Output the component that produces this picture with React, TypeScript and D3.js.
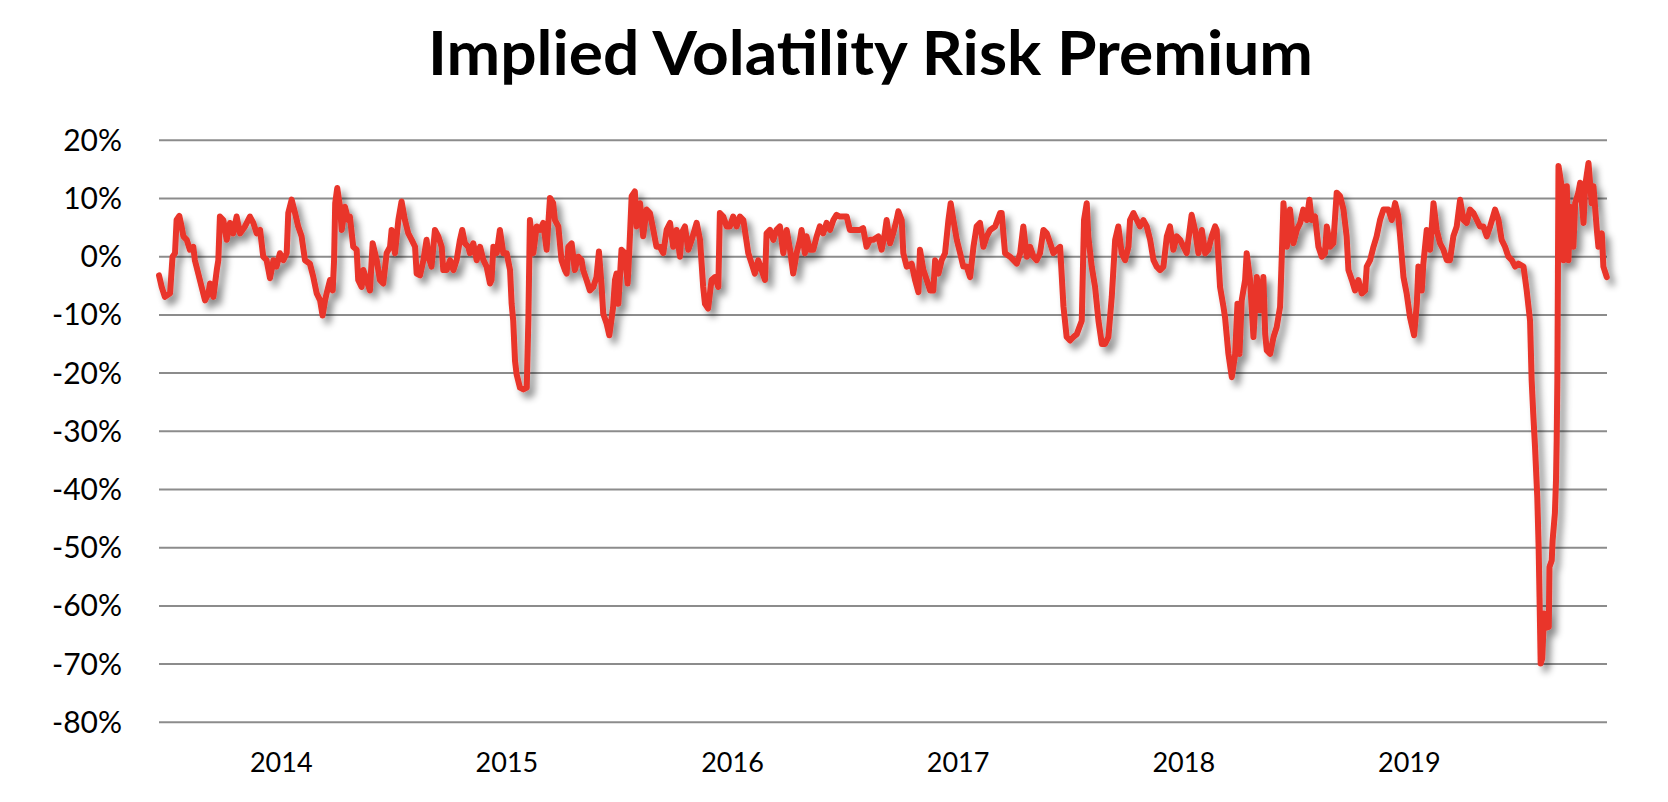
import React from 'react';
import * as d3 from 'd3';

const chartTitle = 'Implied Volatility Risk Premium';
const yTicks = [20, 10, 0, -10, -20, -30, -40, -50, -60, -70, -80];
const yearLabels = [2014, 2015, 2016, 2017, 2018, 2019];
const xDomain: [number, number] = [2013.958, 2020.376];
const yDomain: [number, number] = [-80, 20];

// [decimal year, implied volatility risk premium in %]
const premiumSeries: [number, number][] = [
  [2013.958, -3.2], [2013.970, -5.2], [2013.984, -6.9], [2014.007, -6.3], [2014.018, 0.0], [2014.029, 0.6],
  [2014.036, 6.3], [2014.048, 7.0], [2014.058, 5.2], [2014.066, 3.5], [2014.081, 2.9], [2014.095, 1.2],
  [2014.110, 1.7], [2014.117, -0.6], [2014.132, -2.9], [2014.147, -5.2], [2014.162, -7.5], [2014.177, -6.3],
  [2014.184, -4.6], [2014.199, -6.9], [2014.214, -2.3], [2014.221, -0.6], [2014.228, 6.9], [2014.243, 6.3],
  [2014.258, 2.9], [2014.273, 5.8], [2014.287, 4.0], [2014.302, 6.9], [2014.317, 4.0], [2014.339, 5.2],
  [2014.361, 6.9], [2014.376, 5.8], [2014.391, 4.0], [2014.406, 4.6], [2014.420, 0.0], [2014.435, -0.6],
  [2014.450, -3.7], [2014.465, -0.6], [2014.479, -1.7], [2014.494, 0.6], [2014.509, -0.6], [2014.524, 0.6],
  [2014.531, 7.5], [2014.546, 9.8], [2014.561, 7.5], [2014.575, 5.2], [2014.590, 3.5], [2014.605, -0.6],
  [2014.627, -1.2], [2014.642, -3.5], [2014.657, -6.3], [2014.672, -7.5], [2014.683, -10.1], [2014.694, -7.5],
  [2014.701, -6.3], [2014.716, -4.0], [2014.728, -5.8], [2014.734, -0.6], [2014.739, 9.2], [2014.748, 11.8],
  [2014.760, 8.6], [2014.768, 4.6], [2014.782, 8.6], [2014.797, 6.3], [2014.804, 6.9], [2014.819, 1.7],
  [2014.834, 1.2], [2014.841, -4.0], [2014.856, -5.2], [2014.864, -2.3], [2014.878, -4.0], [2014.893, -5.8],
  [2014.905, 2.3], [2014.923, -0.6], [2014.937, -4.0], [2014.952, -4.6], [2014.967, 0.6], [2014.982, 1.7],
  [2014.989, 4.6], [2015.004, 0.6], [2015.019, 6.3], [2015.033, 9.5], [2015.048, 6.3], [2015.063, 4.0],
  [2015.078, 2.9], [2015.093, 1.7], [2015.100, -2.9], [2015.115, -3.2], [2015.130, -0.6], [2015.144, 2.9],
  [2015.152, 0.0], [2015.166, -1.7], [2015.181, 4.6], [2015.196, 3.5], [2015.211, 1.7], [2015.218, -2.3],
  [2015.233, -2.3], [2015.248, -0.6], [2015.263, -2.3], [2015.277, -0.6], [2015.292, 2.9], [2015.302, 4.6],
  [2015.314, 2.3], [2015.329, 1.7], [2015.336, 0.6], [2015.351, 2.3], [2015.366, -0.6], [2015.381, 1.7],
  [2015.396, -0.6], [2015.410, -1.7], [2015.425, -4.6], [2015.432, -4.0], [2015.440, 1.7], [2015.455, 0.6],
  [2015.469, 4.6], [2015.484, 0.6], [2015.499, 0.6], [2015.514, -2.3], [2015.521, -8.1], [2015.528, -11.0],
  [2015.536, -17.9], [2015.543, -20.2], [2015.558, -22.5], [2015.573, -22.8], [2015.588, -22.5], [2015.595, -11.0],
  [2015.602, 6.3], [2015.617, 0.6], [2015.632, 5.2], [2015.647, 4.6], [2015.661, 5.8], [2015.676, 1.2],
  [2015.691, 10.1], [2015.705, 9.2], [2015.713, 6.3], [2015.728, 5.2], [2015.735, 2.3], [2015.742, -0.6],
  [2015.757, -2.3], [2015.765, -2.9], [2015.772, 1.7], [2015.787, 2.3], [2015.801, -2.3], [2015.816, 0.0],
  [2015.831, -0.6], [2015.838, -2.3], [2015.853, -4.0], [2015.868, -5.8], [2015.883, -5.2], [2015.897, -3.5],
  [2015.908, 0.9], [2015.920, -5.2], [2015.927, -9.8], [2015.942, -11.5], [2015.954, -13.5], [2015.971, -8.6],
  [2015.979, -4.0], [2015.986, -2.9], [2015.994, -8.1], [2016.001, -3.5], [2016.008, 1.2], [2016.023, 0.6],
  [2016.035, -4.6], [2016.042, 0.6], [2016.053, 10.4], [2016.067, 11.2], [2016.075, 5.2], [2016.090, 9.2],
  [2016.104, 3.5], [2016.119, 8.1], [2016.134, 7.5], [2016.149, 4.6], [2016.163, 1.7], [2016.178, 1.7],
  [2016.193, 0.6], [2016.208, 4.6], [2016.223, 5.8], [2016.237, 1.7], [2016.252, 4.6], [2016.267, 0.0],
  [2016.274, 4.0], [2016.289, 5.2], [2016.304, 1.2], [2016.319, 2.9], [2016.341, 5.8], [2016.356, 2.9],
  [2016.370, -5.2], [2016.378, -8.1], [2016.392, -8.9], [2016.407, -4.0], [2016.422, -3.5], [2016.437, -5.2],
  [2016.444, 7.5], [2016.459, 6.9], [2016.474, 5.2], [2016.488, 5.2], [2016.503, 6.9], [2016.518, 5.2],
  [2016.533, 6.9], [2016.548, 6.3], [2016.570, 0.6], [2016.585, -1.2], [2016.599, -2.9], [2016.614, -0.6],
  [2016.629, -2.3], [2016.644, -4.0], [2016.651, 4.0], [2016.666, 4.6], [2016.681, 2.9], [2016.695, 4.6],
  [2016.710, 5.2], [2016.725, 0.6], [2016.740, 4.6], [2016.755, 1.2], [2016.769, -2.9], [2016.784, 0.6],
  [2016.799, 2.9], [2016.806, 4.6], [2016.821, 0.6], [2016.828, 3.5], [2016.843, 1.2], [2016.858, 1.2],
  [2016.873, 3.5], [2016.887, 5.2], [2016.902, 4.0], [2016.917, 5.8], [2016.932, 4.6], [2016.947, 6.3],
  [2016.961, 7.2], [2016.976, 6.9], [2017.006, 6.9], [2017.020, 4.6], [2017.035, 4.6], [2017.065, 4.6],
  [2017.079, 4.9], [2017.094, 1.7], [2017.109, 2.9], [2017.124, 2.9], [2017.146, 3.5], [2017.161, 1.2],
  [2017.175, 4.0], [2017.183, 6.3], [2017.198, 2.3], [2017.212, 4.0], [2017.227, 6.3], [2017.235, 7.8],
  [2017.250, 6.3], [2017.257, 0.6], [2017.272, -1.7], [2017.294, -1.2], [2017.309, -4.0], [2017.324, -6.1],
  [2017.331, 1.2], [2017.346, -2.3], [2017.361, -4.0], [2017.376, -5.8], [2017.390, -5.8], [2017.398, -0.6],
  [2017.413, -2.9], [2017.427, -0.6], [2017.442, 0.6], [2017.457, 6.3], [2017.467, 9.2], [2017.479, 6.3],
  [2017.494, 2.9], [2017.509, 0.6], [2017.523, -1.7], [2017.538, -1.7], [2017.553, -3.5], [2017.568, 1.7],
  [2017.582, 5.2], [2017.597, 5.8], [2017.612, 1.7], [2017.627, 3.5], [2017.642, 4.6], [2017.664, 5.2],
  [2017.686, 7.5], [2017.693, 7.5], [2017.708, 0.6], [2017.730, 0.0], [2017.760, -1.2], [2017.775, 0.6],
  [2017.789, 5.2], [2017.804, 0.0], [2017.819, 1.7], [2017.834, 0.0], [2017.848, -0.6], [2017.863, 0.6],
  [2017.878, 4.6], [2017.893, 4.0], [2017.908, 2.3], [2017.922, 0.6], [2017.937, 1.2], [2017.952, 1.7],
  [2017.967, -8.6], [2017.981, -13.8], [2017.996, -14.4], [2018.011, -13.8], [2018.026, -13.3], [2018.048, -11.0],
  [2018.058, 6.3], [2018.070, 9.2], [2018.077, 3.5], [2018.092, -1.7], [2018.107, -5.2], [2018.122, -11.0],
  [2018.137, -15.0], [2018.151, -15.0], [2018.166, -13.8], [2018.181, -6.9], [2018.196, 2.9], [2018.210, 5.2],
  [2018.225, 0.6], [2018.240, -0.6], [2018.255, 1.7], [2018.262, 6.3], [2018.277, 7.5], [2018.292, 6.3],
  [2018.306, 5.2], [2018.321, 6.3], [2018.336, 5.2], [2018.351, 2.9], [2018.366, -0.6], [2018.380, -1.7],
  [2018.395, -2.3], [2018.410, -1.7], [2018.425, 3.5], [2018.439, 5.2], [2018.454, 1.2], [2018.469, 3.5],
  [2018.484, 2.9], [2018.499, 1.7], [2018.513, 0.6], [2018.535, 7.2], [2018.550, 4.6], [2018.565, 0.6],
  [2018.580, 4.6], [2018.595, 0.6], [2018.609, 1.2], [2018.624, 3.5], [2018.639, 5.2], [2018.646, 4.6],
  [2018.661, -5.2], [2018.676, -8.6], [2018.683, -10.4], [2018.698, -16.7], [2018.713, -20.7], [2018.728, -16.7],
  [2018.738, -8.1], [2018.747, -16.7], [2018.757, -7.5], [2018.772, -4.0], [2018.779, 0.6], [2018.794, -4.0],
  [2018.809, -13.8], [2018.824, -3.5], [2018.838, -9.2], [2018.853, -3.5], [2018.861, -13.3], [2018.868, -16.1],
  [2018.883, -16.7], [2018.898, -13.8], [2018.912, -12.1], [2018.927, -8.6], [2018.934, -0.6], [2018.942, 9.2],
  [2018.957, 1.7], [2018.971, 8.1], [2018.986, 2.3], [2019.001, 4.6], [2019.016, 5.8], [2019.030, 8.1],
  [2019.045, 6.3], [2019.057, 9.8], [2019.067, 6.3], [2019.082, 6.9], [2019.097, 1.7], [2019.112, 0.0],
  [2019.126, 0.6], [2019.134, 5.2], [2019.149, 1.7], [2019.163, 2.3], [2019.178, 11.0], [2019.193, 10.4],
  [2019.208, 8.1], [2019.222, 3.5], [2019.230, -2.3], [2019.245, -4.0], [2019.259, -5.8], [2019.274, -4.0],
  [2019.289, -6.3], [2019.304, -5.8], [2019.311, -1.7], [2019.326, -0.6], [2019.341, 1.7], [2019.355, 3.5],
  [2019.370, 6.3], [2019.385, 8.1], [2019.407, 8.1], [2019.422, 6.3], [2019.437, 9.2], [2019.451, 6.9],
  [2019.459, 3.5], [2019.474, -3.5], [2019.488, -6.3], [2019.503, -10.4], [2019.521, -13.5], [2019.533, -8.1],
  [2019.540, -1.7], [2019.555, -5.8], [2019.562, -1.2], [2019.577, 4.6], [2019.592, 1.2], [2019.607, 9.2],
  [2019.621, 4.6], [2019.636, 2.3], [2019.651, 1.2], [2019.666, -0.6], [2019.680, -0.6], [2019.695, 3.5],
  [2019.710, 5.2], [2019.725, 9.8], [2019.740, 6.3], [2019.754, 5.8], [2019.769, 8.1], [2019.784, 7.5],
  [2019.799, 6.3], [2019.813, 5.2], [2019.828, 5.2], [2019.843, 3.5], [2019.858, 5.2], [2019.880, 8.1],
  [2019.895, 6.3], [2019.909, 2.9], [2019.924, 1.7], [2019.939, 0.0], [2019.954, -0.6], [2019.969, -1.7],
  [2019.983, -1.2], [2020.006, -1.7], [2020.020, -5.8], [2020.035, -11.0], [2020.042, -21.2], [2020.049, -26.9],
  [2020.057, -32.7], [2020.067, -41.3], [2020.073, -49.9], [2020.077, -58.5], [2020.082, -69.9], [2020.089, -69.0],
  [2020.097, -61.3], [2020.103, -63.8], [2020.118, -63.6], [2020.121, -53.3], [2020.131, -52.2], [2020.135, -48.7],
  [2020.145, -44.1], [2020.150, -38.4], [2020.153, -31.5], [2020.156, -21.2], [2020.161, 15.6], [2020.175, 12.1],
  [2020.183, -0.6], [2020.190, 8.6], [2020.198, 12.1], [2020.205, -0.6], [2020.212, 8.6], [2020.220, 4.6],
  [2020.227, 1.7], [2020.235, 9.2], [2020.249, 11.0], [2020.257, 12.7], [2020.272, 5.8], [2020.279, 12.1],
  [2020.294, 16.1], [2020.308, 9.2], [2020.316, 12.1], [2020.331, 4.6], [2020.338, 1.7], [2020.353, 4.0],
  [2020.360, -1.7], [2020.375, -3.5],
];

const W = 1668;
const H = 802;
const plotLeft = 159;
const plotRight = 1607;
const plotTop = 140.3;
const plotBottom = 722.3;

export default function App() {
  const x = d3.scaleLinear().domain(xDomain).range([plotLeft, plotRight]);
  const y = d3.scaleLinear().domain(yDomain).range([plotBottom, plotTop]);
  const line = d3
    .line<[number, number]>()
    .x((d) => x(d[0]))
    .y((d) => y(d[1]));

  return (
    <svg
      width={W}
      height={H}
      viewBox={`0 0 ${W} ${H}`}
      style={{ position: 'absolute', left: 0, top: 0, background: '#fff' }}
    >
      <defs>
        <filter id="shadow" x="-5%" y="-10%" width="115%" height="130%">
          <feDropShadow dx="5" dy="6" stdDeviation="3.5" floodColor="#000" floodOpacity="0.45" />
        </filter>
      </defs>
      <rect x={0} y={0} width={W} height={H} fill="#fff" />
      <text
        x={870.5}
        y={75}
        textAnchor="middle"
        fontFamily="Lato, 'Open Sans', sans-serif"
        fontWeight={700}
        fontSize={62}
        fill="#000"
        textLength={885}
        lengthAdjust="spacingAndGlyphs"
      >
        {chartTitle}
      </text>
      {yTicks.map((t) => (
        <g key={t}>
          <line x1={plotLeft} x2={plotRight} y1={y(t)} y2={y(t)} stroke="#8c8c8c" strokeWidth={2} />
          <text
            x={122}
            y={y(t) + 10.5}
            textAnchor="end"
            fontFamily="Lato, 'Open Sans', sans-serif"
            fontSize={30}
            fill="#000"
          >
            {`${t}%`}
          </text>
        </g>
      ))}
      {yearLabels.map((yr) => (
        <text
          key={yr}
          x={x(yr + 0.5)}
          y={771.7}
          textAnchor="middle"
          fontFamily="Lato, 'Open Sans', sans-serif"
          fontSize={27}
          fill="#000"
        >
          {yr}
        </text>
      ))}
      <path
        d={line(premiumSeries) || ''}
        fill="none"
        stroke="#E9342A"
        strokeWidth={6}
        strokeLinejoin="round"
        strokeLinecap="round"
        filter="url(#shadow)"
      />
    </svg>
  );
}
